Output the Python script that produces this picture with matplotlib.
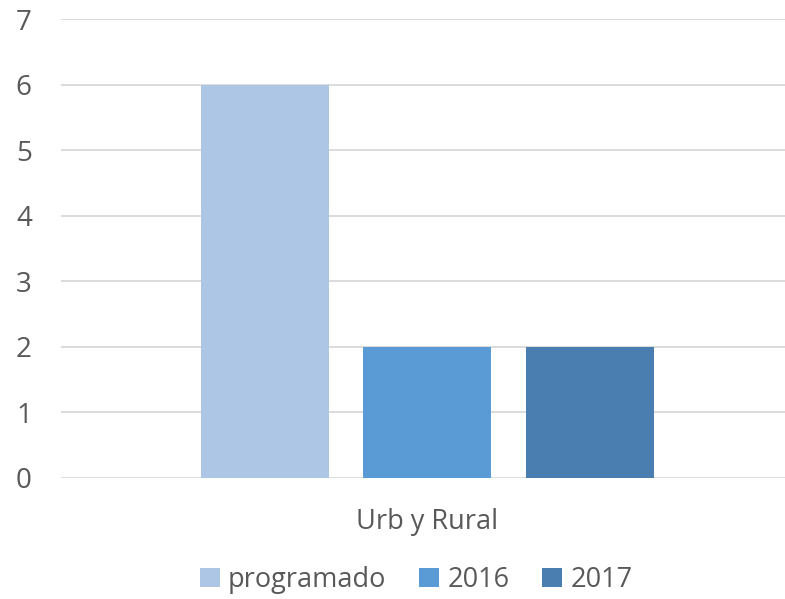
import matplotlib
matplotlib.use("Agg")
import matplotlib.pyplot as plt
from matplotlib.patches import Patch

categories = ["Urb y Rural"]
series_names = ["programado", "2016", "2017"]
series_values = [6, 2, 2]
colors = ["#ADC6E5", "#5B9BD5", "#4A7EB0"]
yticks = [0, 1, 2, 3, 4, 5, 6, 7]

text_color = "#595959"
plt.rcParams["font.family"] = ["Open Sans", "DejaVu Sans"]

fig = plt.figure(figsize=(7.85, 5.99), dpi=100)
ax = fig.add_axes([61 / 785, (599 - 478) / 599, 1 - 61 / 785, (478 - 19) / 599])

pos = list(range(len(series_names)))
ax.bar(pos, series_values, width=0.788, color=colors, zorder=2)

ax.set_ylim(0, 7)
ax.set_xlim(-1.255, 3.2)
ax.set_yticks(yticks)
ax.set_yticklabels([str(t) for t in yticks], fontsize=20, color=text_color)
ax.yaxis.grid(True, color="#D9D9D9", linewidth=1.3, zorder=0)
ax.tick_params(axis="y", length=0, pad=21)
ax.set_xticks([])
for s in ax.spines.values():
    s.set_visible(False)
ax.set_axisbelow(True)

fig.text(427 / 785, 1 - 522 / 599, categories[0], ha="center", va="center",
         fontsize=19.5, color=text_color)

handles = [Patch(facecolor=c, edgecolor="none") for c in colors]
fig.legend(handles, series_names, loc="center", bbox_to_anchor=(416 / 785, 1 - 580 / 599),
           ncol=3, frameon=False, fontsize=19.5, labelcolor=text_color,
           handlelength=0.75, handleheight=0.75, handletextpad=0.3, columnspacing=1.2)

fig.savefig("out.png", dpi=100)
